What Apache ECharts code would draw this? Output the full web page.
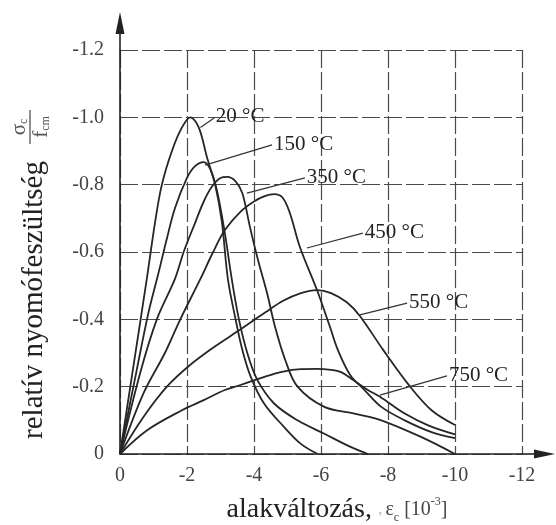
<!DOCTYPE html>
<html>
<head>
<meta charset="utf-8">
<script src="https://cdn.jsdelivr.net/npm/echarts@6/dist/echarts.min.js"></script>
<style>
  html, body { margin: 0; padding: 0; background: #fff; }
  #chart { width: 556px; height: 525px; }
</style>
</head>
<body>
<div id="chart"></div>
<script>
// tick labels are built by the formatters, axes: strain 0..-12, stress 0..-1.2
const xTicks = [0, -2, -4, -6, -8, -10, -12];
const yTicks = [0, -0.2, -0.4, -0.6, -0.8, -1.0, -1.2];

// curves: [strain (10^-3), sigma_c / f_cm]
const t20 = [[0, 0], [-0.4, -0.26], [-0.8, -0.52], [-1.05, -0.69], [-1.25, -0.8], [-1.55, -0.9], [-1.85, -0.97], [-2.1, -1.0], [-2.35, -0.97], [-2.6, -0.88], [-2.84, -0.8], [-3.04, -0.69], [-3.22, -0.52], [-3.45, -0.4], [-3.65, -0.31], [-3.9, -0.23], [-4.3, -0.15], [-4.9, -0.08], [-5.4, -0.03], [-5.9, 0]];
const t150 = [[0, 0], [-0.5, -0.25], [-0.85, -0.42], [-1.13, -0.53], [-1.4, -0.64], [-1.64, -0.73], [-2.0, -0.82], [-2.24, -0.855], [-2.5, -0.867], [-2.7, -0.845], [-2.9, -0.78], [-3.13, -0.656], [-3.34, -0.517], [-3.55, -0.4], [-3.8, -0.3], [-4.1, -0.22], [-4.6, -0.15], [-5.3, -0.1], [-6.1, -0.06], [-6.8, -0.025], [-7.4, 0]];
const t350 = [[0, 0], [-0.6, -0.24], [-1.1, -0.4], [-1.64, -0.52], [-1.9, -0.6], [-2.24, -0.686], [-2.5, -0.75], [-2.75, -0.795], [-3.0, -0.82], [-3.2, -0.823], [-3.45, -0.81], [-3.65, -0.775], [-3.88, -0.674], [-4.12, -0.576], [-4.39, -0.478], [-4.63, -0.377], [-4.93, -0.28], [-5.3, -0.2], [-6.1, -0.14], [-7.0, -0.12], [-7.8, -0.1], [-9.0, -0.05], [-10, 0]];
const t450 = [[0, 0], [-0.7, -0.18], [-1.34, -0.3], [-1.8, -0.4], [-2.4, -0.52], [-2.78, -0.6], [-3.13, -0.665], [-3.6, -0.72], [-4.0, -0.75], [-4.3, -0.765], [-4.6, -0.772], [-4.85, -0.762], [-5.07, -0.716], [-5.37, -0.615], [-5.88, -0.487], [-6.27, -0.377], [-6.5, -0.31], [-6.87, -0.235], [-7.3, -0.19], [-7.8, -0.14], [-8.5, -0.1], [-9.3, -0.065], [-10, -0.047]];
const t550 = [[0, 0], [-0.7, -0.11], [-1.4, -0.2], [-2.1, -0.265], [-2.84, -0.32], [-3.52, -0.365], [-4.33, -0.42], [-4.87, -0.455], [-5.4, -0.478], [-5.88, -0.487], [-6.3, -0.478], [-6.78, -0.45], [-7.16, -0.41], [-7.85, -0.31], [-8.66, -0.2], [-9.3, -0.13], [-10, -0.086]];
const t750 = [[0, 0], [-0.8, -0.07], [-1.85, -0.13], [-2.5, -0.16], [-3.13, -0.19], [-3.6, -0.205], [-4.33, -0.23], [-4.87, -0.245], [-5.4, -0.252], [-5.88, -0.253], [-6.3, -0.25], [-6.6, -0.243], [-6.96, -0.22], [-7.4, -0.19], [-7.76, -0.17], [-8.5, -0.12], [-9.2, -0.085], [-10, -0.058]];

const curveNames = ['20 °C', '150 °C', '350 °C', '450 °C', '550 °C', '750 °C'];
const curves = [t20, t150, t350, t450, t550, t750];

// leader lines of the temperature labels, in data units (from the curve to the text)
const leaderFrom = [[-2.4, -0.97], [-2.54, -0.858], [-3.79, -0.775], [-5.58, -0.612], [-7.16, -0.413], [-7.76, -0.175]];
const leaderTo = [[-2.81, -0.998], [-4.54, -0.918], [-5.52, -0.82], [-7.25, -0.656], [-8.57, -0.448], [-9.76, -0.232]];

const serif = '"Liberation Serif", "DejaVu Serif", serif';

let chart = echarts.init(document.getElementById('chart'));

let series = curves.map((d, i) => ({
  name: curveNames[i],
  type: 'line',
  data: d,
  smooth: 0.35,
  showSymbol: false,
  lineStyle: { color: '#262626', width: 1.8 },
  markLine: {
    silent: true,
    symbol: ['none', 'none'],
    lineStyle: { color: '#333', width: 1.2, type: 'solid' },
    label: {
      show: true,
      position: 'end',
      distance: 2,
      formatter: curveNames[i],
      fontFamily: serif,
      fontSize: 21,
      color: '#222',
    },
    data: [[{ coord: leaderFrom[i] }, { coord: leaderTo[i] }]],
  },
}));

let gridLine = {
  show: true,
  lineStyle: { color: '#4a4a4a', width: 1.2, type: [18, 4] },
};

chart.setOption({
  animation: false,
  backgroundColor: '#fff',
  grid: { left: 120, right: 34, top: 50, bottom: 71, containLabel: false, outerBoundsMode: 'none' },
  xAxis: {
    type: 'value',
    min: -12,
    max: 0,
    interval: 2,
    inverse: true,
    axisLine: { show: true, lineStyle: { color: '#222', width: 1.6 } },
    axisTick: { show: false },
    splitLine: gridLine,
    axisLabel: {
      margin: 12,
      fontFamily: serif,
      fontSize: 20,
      color: '#444',
      formatter: (v) => (Math.abs(v) < 1e-9 ? '0' : String(Math.round(v))),
    },
    name: '{a|alakváltozás,}  {c|,} {b|ε}{s|c}{b| [10}{p|-3}{b|]}',
    nameLocation: 'middle',
    nameGap: 42,
    nameTextStyle: {
      padding: [0, 0, 0, 32],
      rich: {
        a: { fontFamily: serif, fontSize: 28, color: '#222', lineHeight: 28 },
        b: { fontFamily: serif, fontSize: 20, color: '#444', lineHeight: 28 },
        c: { fontFamily: serif, fontSize: 14, color: '#aaa', lineHeight: 28 },
        s: { fontFamily: serif, fontSize: 12, color: '#444', lineHeight: 28, verticalAlign: 'bottom' },
        p: { fontFamily: serif, fontSize: 12, color: '#444', lineHeight: 28, verticalAlign: 'top' },
      },
    },
  },
  yAxis: {
    type: 'value',
    min: -1.2,
    max: 0,
    interval: 0.2,
    inverse: true,
    axisLine: { show: true, lineStyle: { color: '#222', width: 1.6 } },
    axisTick: { show: false },
    splitLine: gridLine,
    axisLabel: {
      margin: 16,
      fontFamily: serif,
      fontSize: 20,
      color: '#444',
      formatter: (v) => (Math.abs(v) < 1e-9 ? '0' : v.toFixed(1)),
    },
  },
  series: series,
});

// axis arrows running past the grid, and the y title
let origin = chart.convertToPixel({ gridIndex: 0 }, [0, 0]);
let yEnd = chart.convertToPixel({ gridIndex: 0 }, [0, -1.2]);
let xEnd = chart.convertToPixel({ gridIndex: 0 }, [-12, 0]);
let ax = origin[0], ay = origin[1];

let fracRich = {
  m: { font: '21px ' + serif, fill: '#555' },
  i: { font: '12px ' + serif, fill: '#555', verticalAlign: 'bottom' },
};

chart.setOption({
  graphic: [
    { type: 'line', shape: { x1: ax, y1: yEnd[1], x2: ax, y2: yEnd[1] - 28 }, style: { stroke: '#222', lineWidth: 1.6 } },
    { type: 'polygon', shape: { points: [[ax, yEnd[1] - 38], [ax - 4.5, yEnd[1] - 16], [ax + 4.5, yEnd[1] - 16]] }, style: { fill: '#222' } },
    { type: 'line', shape: { x1: xEnd[0], y1: ay, x2: xEnd[0] + 22, y2: ay }, style: { stroke: '#222', lineWidth: 1.6 } },
    { type: 'polygon', shape: { points: [[xEnd[0] + 33, ay], [xEnd[0] + 12, ay - 4.5], [xEnd[0] + 12, ay + 4.5]] }, style: { fill: '#222' } },
    {
      type: 'text',
      x: 34,
      y: 300,
      rotation: Math.PI / 2,
      style: { text: 'relatív nyomófeszültség', font: '29px ' + serif, fill: '#222', align: 'center', verticalAlign: 'middle' },
    },
    {
      type: 'group',
      x: 30,
      y: 127,
      rotation: Math.PI / 2,
      children: [
        { type: 'text', x: 0, y: -11, style: { text: '{m|σ}{i|c}', align: 'center', verticalAlign: 'middle', rich: fracRich } },
        { type: 'line', shape: { x1: -17, y1: 0, x2: 17, y2: 0 }, style: { stroke: '#555', lineWidth: 1.3 } },
        { type: 'text', x: 0, y: 11, style: { text: '{m|f}{i|cm}', align: 'center', verticalAlign: 'middle', rich: fracRich } },
      ],
    },
  ],
});

window.addEventListener('resize', () => {
  chart.resize();
});
</script>
</body>
</html>
